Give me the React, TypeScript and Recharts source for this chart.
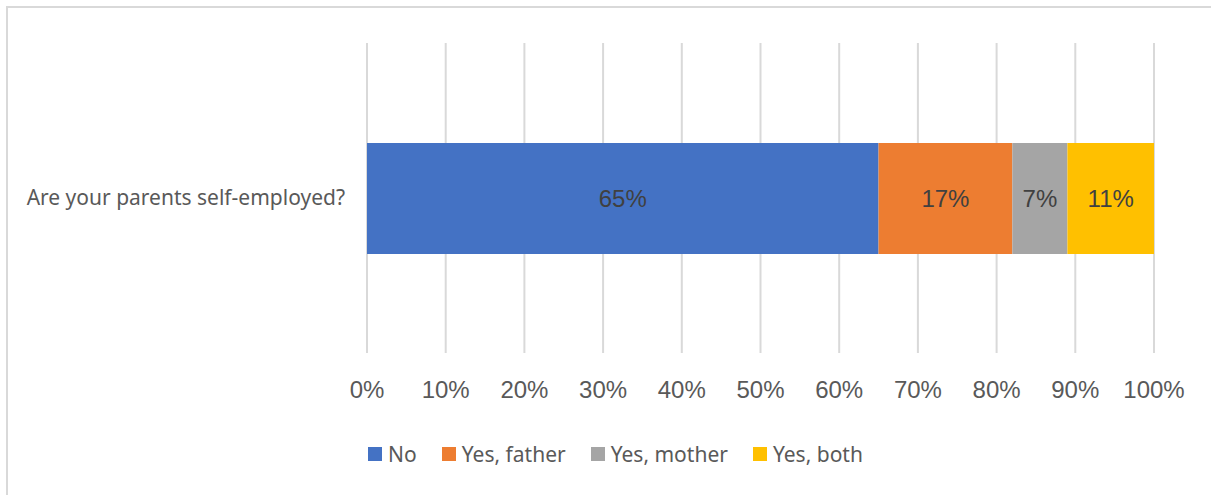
import React from 'react';
import { BarChart, Bar, XAxis, YAxis, CartesianGrid, Legend, LabelList } from 'recharts';

const question = 'Are your parents self-employed?';
const seriesKeys = ['no', 'father', 'mother', 'both'];
const seriesNames = ['No', 'Yes, father', 'Yes, mother', 'Yes, both'];
const seriesValues = [65, 17, 7, 11];
const seriesColors = ['#4472C4', '#ED7D31', '#A5A5A5', '#FFC000'];
const xTicks = [0, 10, 20, 30, 40, 50, 60, 70, 80, 90, 100];

const row: any = { name: question };
seriesKeys.forEach((k, i) => (row[k] = seriesValues[i]));
const data = [row];

const pct = (v: any) => `${v}%`;

function LegendContent() {
  return (
    <div style={{ display: 'flex', justifyContent: 'center', alignItems: 'center', fontFamily: '"Noto Sans", sans-serif', fontSize: 21, color: '#595959' }}>
      {seriesNames.map((n, i) => (
        <div key={n} style={{ display: 'flex', alignItems: 'center', marginRight: i < seriesNames.length - 1 ? 25 : 0 }}>
          <span style={{ width: 14, height: 14, background: seriesColors[i], marginRight: 6, display: 'inline-block' }} />
          <span>{n}</span>
        </div>
      ))}
    </div>
  );
}

export default function App() {
  return (
    <div style={{ position: 'fixed', left: 0, top: 0, width: 1211, height: 495, background: '#fff', overflow: 'hidden' }}>
      <div style={{ position: 'absolute', left: 6, top: 6, width: 1220, height: 500, border: '2px solid #d9d9d9', boxSizing: 'border-box' }} />
      <BarChart
        width={1211}
        height={495}
        data={data}
        layout="vertical"
        margin={{ top: 43, right: 57, left: 0, bottom: 0 }}
        barSize={111}
        style={{ position: 'absolute', left: 0, top: 0 }}
      >
        <CartesianGrid horizontal={false} stroke="#d9d9d9" strokeWidth={2} />
        <XAxis
          type="number"
          domain={[0, 100]}
          ticks={xTicks}
          tickFormatter={pct}
          axisLine={false}
          tickLine={false}
          height={142}
          tickSize={0}
          tickMargin={28}
          interval={0}
          tick={{ fontSize: 24, fill: '#595959', fontFamily: '"Liberation Sans", Arial, sans-serif' }}
        />
        <YAxis
          type="category"
          dataKey="name"
          width={367}
          axisLine={false}
          tickLine={false}
          tickSize={0}
          tickMargin={22}
          tick={{ fontSize: 21, fill: '#595959', fontFamily: '"Noto Sans", sans-serif' }}
        />
        <Legend
          verticalAlign="middle"
          align="center"
          layout="horizontal"
          content={<LegendContent />}
          wrapperStyle={{ top: 440, left: 0, width: 1231 }}
        />
        {seriesKeys.map((k, i) => (
          <Bar key={k} dataKey={k} name={seriesNames[i]} stackId="a" fill={seriesColors[i]} isAnimationActive={false}>
            <LabelList dataKey={k} position="center" formatter={pct} fill="#404040" fontSize={24} fontFamily='"Liberation Sans", Arial, sans-serif' />
          </Bar>
        ))}
      </BarChart>
    </div>
  );
}
